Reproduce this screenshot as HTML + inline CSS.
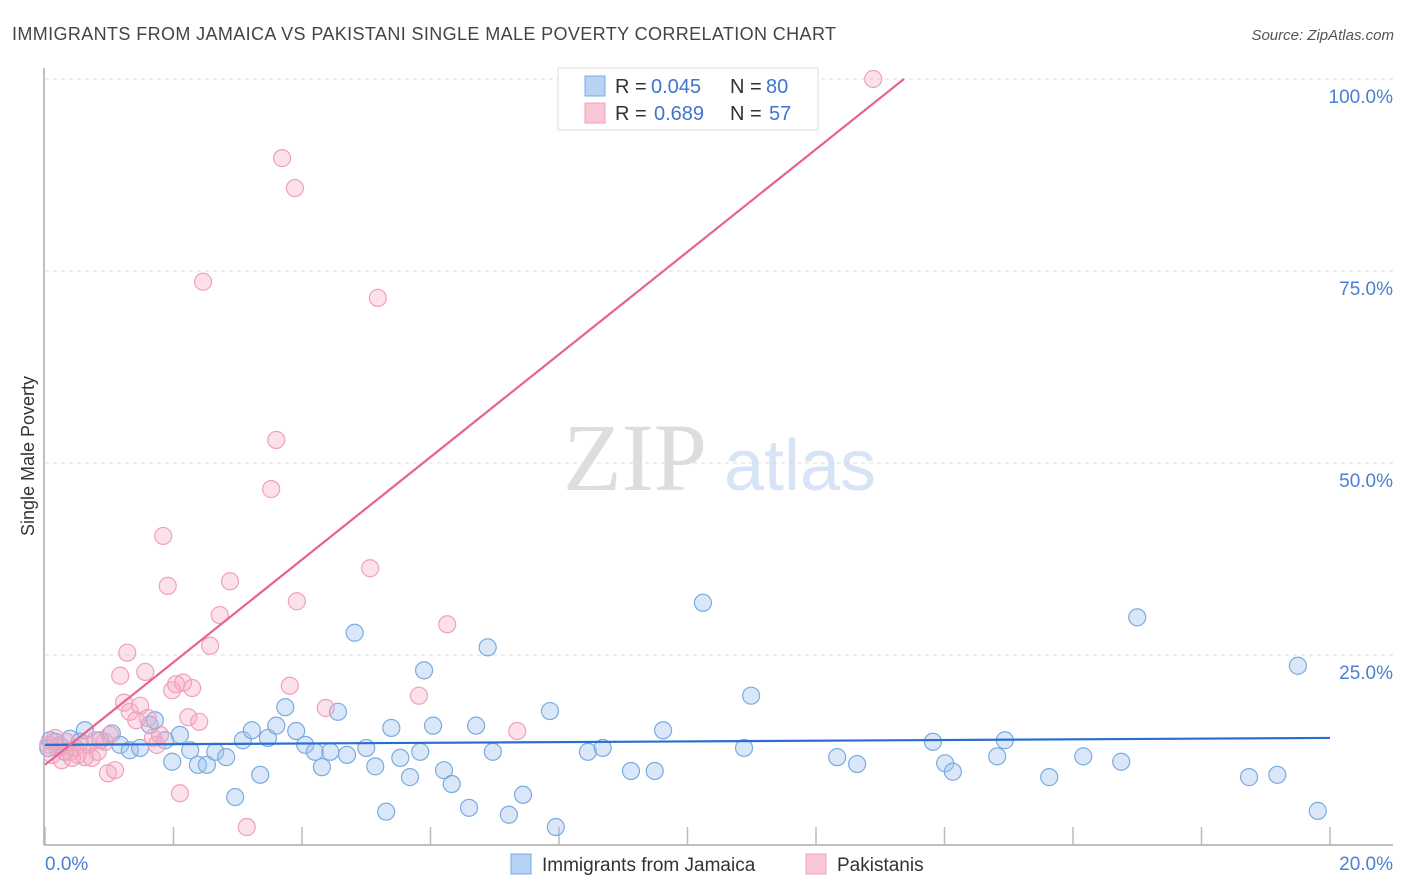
<!DOCTYPE html>
<html><head><meta charset="utf-8">
<style>
body{margin:0;background:#fff;font-family:"Liberation Sans",sans-serif;}
svg{display:block}
</style></head>
<body>
<svg id="chart" width="1406" height="892" xmlns="http://www.w3.org/2000/svg">
<text x="12" y="40" font-size="18" fill="#444" textLength="824" lengthAdjust="spacing">IMMIGRANTS FROM JAMAICA VS PAKISTANI SINGLE MALE POVERTY CORRELATION CHART</text>
<text x="1394" y="40" font-size="15" fill="#555" text-anchor="end" font-style="italic">Source: ZipAtlas.com</text>
<g>
<text x="635" y="490" font-size="96" font-family="Liberation Serif" fill="#ddd" text-anchor="middle">ZIP</text>
<text x="800" y="490" font-size="72" fill="#d6e4f5" text-anchor="middle">atlas</text>
</g>
<g id="grid"></g>
<g id="axes"></g>
<g id="points"></g>
<g id="trends"></g>
<text transform="translate(34,456) rotate(-90)" font-size="18" fill="#333" text-anchor="middle">Single Male Poverty</text>
<text x="45" y="870" font-size="19" fill="#4a7fd4">0.0%</text>
<text x="1393" y="870" font-size="19" fill="#4a7fd4" text-anchor="end">20.0%</text>
<g>
<rect x="558" y="68" width="260" height="62" fill="#fff" stroke="#ddd"/>
<rect x="585" y="76" width="20" height="20" fill="#b6d2f5" stroke="#7aabe0"/>
<rect x="585" y="103" width="20" height="20" fill="#f9c6d6" stroke="#f0a0bc"/>
<text x="615" y="93" font-size="20" fill="#333">R =</text>
<text x="651" y="93" font-size="20" fill="#3d75d0">0.045</text>
<text x="730" y="93" font-size="20" fill="#333">N =</text>
<text x="766" y="93" font-size="20" fill="#3d75d0">80</text>
<text x="615" y="120" font-size="20" fill="#333">R =</text>
<text x="654" y="120" font-size="20" fill="#3d75d0">0.689</text>
<text x="730" y="120" font-size="20" fill="#333">N =</text>
<text x="769" y="120" font-size="20" fill="#3d75d0">57</text>
</g>
<g>
<rect x="511" y="854" width="20" height="20" fill="#b6d2f5" stroke="#7aabe0"/>
<text x="542" y="871" font-size="19" fill="#333">Immigrants from Jamaica</text>
<rect x="806" y="854" width="20" height="20" fill="#f9c6d6" stroke="#f0a0bc"/>
<text x="837" y="871" font-size="19" fill="#333">Pakistanis</text>
</g>
</svg>
<script>
const blueX=[0.08,0.23,0.39,0.62,0.86,1.04,1.17,1.32,1.48,1.63,1.71,1.87,1.98,2.10,2.26,2.38,2.52,2.65,2.82,2.96,3.08,3.22,3.35,3.47,3.60,3.74,3.91,4.05,4.20,4.31,4.44,4.56,4.70,4.82,5.00,5.14,5.31,5.39,5.53,5.68,5.84,5.90,6.04,6.21,6.33,6.60,6.71,6.89,6.97,7.22,7.44,7.86,7.95,8.45,8.68,9.12,9.49,9.62,10.24,10.88,10.99,12.33,12.64,13.82,14.01,14.13,14.82,14.94,15.63,16.16,16.75,17.00,18.74,19.18,19.50,19.81,0.05,0.16,0.31,0.54];
const blueY=[13.9,13.2,14.1,15.2,13.9,14.8,13.3,12.6,12.9,15.9,16.5,13.9,11.1,14.6,12.6,10.7,10.7,12.4,11.7,6.5,13.9,15.2,9.4,14.2,15.8,18.2,15.1,13.3,12.4,10.4,12.4,17.6,12.0,27.9,12.9,10.5,4.6,15.5,11.6,9.1,12.4,23.0,15.8,10.0,8.2,5.1,15.8,26.0,12.4,4.2,6.8,17.7,2.6,12.4,12.9,9.9,9.9,15.2,31.8,12.9,19.7,11.7,10.8,13.7,10.9,9.8,11.8,13.9,9.1,11.8,11.1,29.9,9.1,9.4,23.6,4.7,12.9,13.7,12.4,13.7];
const pinkX=[0.05,0.11,0.20,0.26,0.39,0.51,0.62,0.73,0.82,0.93,0.98,1.09,1.17,1.28,1.23,1.32,1.42,1.48,1.56,1.60,1.68,1.74,1.79,1.84,1.91,1.98,2.04,2.10,2.15,2.23,2.29,2.40,2.46,2.57,2.72,2.88,3.14,3.52,3.60,3.69,3.81,3.89,3.92,4.37,5.06,5.18,5.82,6.26,7.35,12.89,0.67,0.78,0.47,0.33,1.01,0.16,0.42];
const pinkY=[13.3,12.0,12.9,11.3,12.4,12.0,11.7,11.6,12.4,13.7,9.6,10.0,22.3,25.3,18.8,17.6,16.5,18.4,22.8,16.8,14.2,13.3,14.6,40.5,34.0,20.4,21.2,7.0,21.4,16.9,20.7,16.3,73.6,26.2,30.2,34.6,2.6,46.6,53.0,89.7,21.0,85.8,32.0,18.1,36.3,71.5,19.7,29.0,15.1,100,13.3,13.9,12.9,13.7,14.6,14.2,11.6];
const blueTrend=[13.3,14.2];   // y at x=0 and x=20
const pinkTrend=[10.7,6.68];   // intercept, slope per 1%
const yTicks=[25,50,75,100];
const yTickLabels=["25.0%","50.0%","75.0%","100.0%"];
const xTicks=[0,2,4,6,8,10,12,14,16,18,20];

const NS="http://www.w3.org/2000/svg";
const X=v=>45+v/20*1285;
const Y=v=>847-v/100*768;
function mk(tag,attrs,parent){const e=document.createElementNS(NS,tag);for(const k in attrs)e.setAttribute(k,attrs[k]);parent.appendChild(e);return e;}
const grid=document.getElementById('grid'),axes=document.getElementById('axes'),pts=document.getElementById('points'),tr=document.getElementById('trends');
yTicks.forEach((t,i)=>{
  const l=mk('line',{x1:45,x2:1393,y1:Y(t),y2:Y(t),stroke:'#ddd','stroke-dasharray':'4,4'},grid);
  
  
  const tx=mk('text',{x:1393,y:Y(t)+24,'font-size':19,fill:'#4a7fd4','text-anchor':'end'},grid);
  tx.textContent=yTickLabels[i];
  
  
});
const ya=mk('line',{x1:44,x2:44,y1:68,y2:845,stroke:'#aaa','stroke-width':1.5},axes);


const xa=mk('line',{x1:44,x2:1393,y1:845,y2:845,stroke:'#aaa','stroke-width':1.5},axes);


xTicks.forEach(t=>{
  const l=mk('line',{x1:X(t),x2:X(t),y1:827,y2:845,stroke:'#bbb','stroke-width':1.5},axes);
  
  
});
blueX.forEach((v,i)=>{
  const c=mk('circle',{cx:X(v),cy:Y(blueY[i]),r:8.5,fill:'rgba(160,196,240,0.4)',stroke:'#7aabe0','stroke-width':1.2},pts);
  
  
});
pinkX.forEach((v,i)=>{
  const c=mk('circle',{cx:X(v),cy:Y(pinkY[i]),r:8.5,fill:'rgba(245,170,195,0.35)',stroke:'#f0a0bc','stroke-width':1.2},pts);
  
  
});
const bl=mk('line',{x1:X(0),y1:Y(blueTrend[0]),x2:X(20),y2:Y(blueTrend[1]),stroke:'#2a6fd0','stroke-width':2.2},tr);


const xEnd=Math.min(20,(100-pinkTrend[0])/pinkTrend[1]);
const pl=mk('line',{x1:X(0),y1:Y(pinkTrend[0]),x2:X(xEnd),y2:Y(pinkTrend[0]+pinkTrend[1]*xEnd),stroke:'#e8628c','stroke-width':2.2},tr);


</script>
</body></html>
